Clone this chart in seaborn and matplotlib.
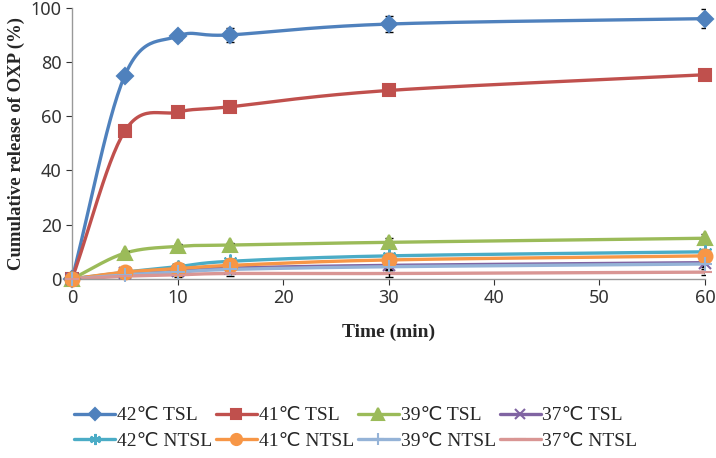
import numpy as np
import pandas as pd
import matplotlib
matplotlib.use('Agg')
import matplotlib.pyplot as plt
import seaborn as sns
from matplotlib.lines import Line2D

time_min = [0, 5, 10, 15, 30, 60]

tsl_42 = [0, 75.0, 89.5, 90.0, 94.0, 96.0]
tsl_41 = [0, 54.5, 61.5, 63.5, 69.5, 75.3]
tsl_39 = [0, 9.5, 12.0, 12.5, 13.5, 15.0]
tsl_37 = [0, 2.0, 3.0, 4.0, 5.0, 6.0]
ntsl_42 = [0, 2.5, 4.5, 6.5, 8.5, 10.0]
ntsl_41 = [0, 2.5, 3.8, 5.0, 7.0, 8.5]
ntsl_39 = [0, 1.5, 2.5, 3.5, 4.5, 5.5]
ntsl_37 = [0, 1.0, 1.5, 2.0, 2.0, 2.5]

err_42 = [0, 1.0, 1.5, 2.5, 2.8, 3.5]
err_41 = [0, 1.5, 1.5, 1.5, 1.5, 1.5]
err_39 = [0, 0.8, 0.8, 0.8, 1.5, 1.5]
err_small = [0, 0.8, 0.8, 1.0, 1.2, 1.2]

labels = ['42℃ TSL', '41℃ TSL', '39℃ TSL', '37℃ TSL',
          '42℃ NTSL', '41℃ NTSL', '39℃ NTSL', '37℃ NTSL']
series = [tsl_42, tsl_41, tsl_39, tsl_37, ntsl_42, ntsl_41, ntsl_39, ntsl_37]
errors = [err_42, err_41, err_39, err_small, err_small, err_small, err_small, err_small]
colors = ['#4F81BD', '#C0504D', '#9BBB59', '#8064A2',
          '#4BACC6', '#F79646', '#95B3D7', '#D99694']
markers = ['D', 's', '^', 'x', (6, 2, 0), 'o', '+', '_']
msizes = [8, 9, 10, 9, 10, 10, 10, 10]


def smooth(x, y, n=30):
    # catmull-rom curve through the points, like Excel's smoothed line
    x = np.asarray(x, float)
    y = np.asarray(y, float)
    px = np.concatenate([[2 * x[0] - x[1]], x, [2 * x[-1] - x[-2]]])
    py = np.concatenate([[2 * y[0] - y[1]], y, [2 * y[-1] - y[-2]]])
    xs, ys = [], []
    t = np.linspace(0, 1, n)
    for i in range(1, len(px) - 2):
        for p, out in ((px, xs), (py, ys)):
            p0, p1, p2, p3 = p[i - 1], p[i], p[i + 1], p[i + 2]
            m1 = (p2 - p0) / 2
            m2 = (p3 - p1) / 2
            h = (2 * t**3 - 3 * t**2 + 1) * p1 + (t**3 - 2 * t**2 + t) * m1 \
                + (-2 * t**3 + 3 * t**2) * p2 + (t**3 - t**2) * m2
            out.extend(h)
    return np.array(xs), np.array(ys)


rows = []
for lab, vals in zip(labels, series):
    sx, sy = smooth(time_min, vals)
    rows.append(pd.DataFrame({'time': sx, 'release': sy, 'group': lab}))
curves = pd.concat(rows, ignore_index=True)

sns.set_style('white')
plt.rcParams['font.family'] = ['Noto Sans', 'DejaVu Sans']

fig = plt.figure(figsize=(7.16, 4.58), dpi=100)
ax = fig.add_axes([0.1006, 0.391, 0.884, 0.592])

sns.lineplot(data=curves, x='time', y='release', hue='group', hue_order=labels,
             palette=colors, linewidth=2.4, sort=False, estimator=None,
             legend=False, ax=ax)

for vals, err, c, m, ms in zip(series, errors, colors, markers, msizes):
    ax.errorbar(time_min, vals, yerr=err, fmt='none', ecolor='black',
                elinewidth=1, capsize=3, zorder=3)
    ax.plot(time_min, vals, linestyle='none', marker=m, markersize=ms,
            color=c, markeredgecolor=c, markeredgewidth=1.5, zorder=4,
            clip_on=False)

ax.set_xlim(0, 60)
ax.set_ylim(0, 100)
ax.set_xticks([0, 10, 20, 30, 40, 50, 60])
ax.set_yticks([0, 20, 40, 60, 80, 100])
ax.tick_params(axis='both', labelsize=13, colors='#333333', length=4,
               direction='out', bottom=True, left=True)
for s in ['top', 'right']:
    ax.spines[s].set_visible(False)
for s in ['left', 'bottom']:
    ax.spines[s].set_color('#999999')
    ax.spines[s].set_linewidth(1)

ax.set_xlabel('Time (min)', fontsize=14, fontweight='bold',
              family='Liberation Serif', labelpad=12)
ax.set_ylabel('Cumulative release of OXP (%)', fontsize=13.5, fontweight='bold',
              family='Liberation Serif', labelpad=4)

handles = [Line2D([0], [0], color=c, lw=2.4, marker=m, markersize=ms * 0.8,
                  markeredgecolor=c, markeredgewidth=1.5)
           for c, m, ms in zip(colors, markers, msizes)]
# legend fills by column, so reorder to read row by row
order = [0, 4, 1, 5, 2, 6, 3, 7]
fig.legend([handles[i] for i in order], [labels[i] for i in order],
           loc='center', bbox_to_anchor=(0.497, 0.065),
           ncol=4, frameon=False, handlelength=2.1, handletextpad=0.1,
           columnspacing=0.2, labelspacing=0.4,
           prop={'family': ['Liberation Serif', 'DejaVu Sans'], 'size': 14})

fig.savefig('out.png', dpi=100)
